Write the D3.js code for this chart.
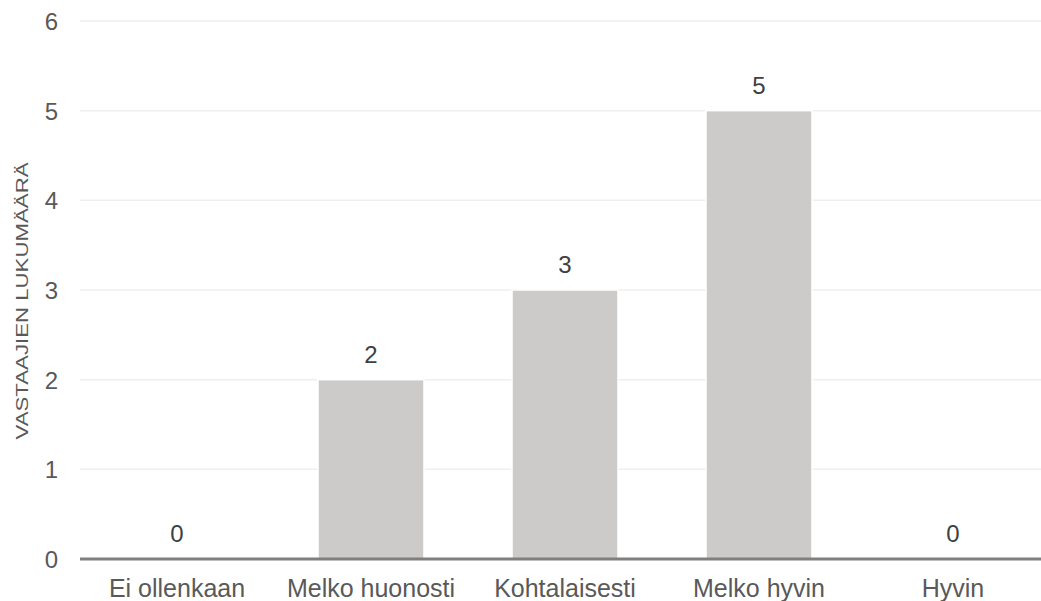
<!DOCTYPE html>
<html><head><meta charset="utf-8">
<script src="https://cdn.jsdelivr.net/npm/d3@7/dist/d3.min.js"></script>
<style>body{margin:0;background:#fff}svg{display:block}</style>
</head><body>
<script>
const categories = ["Ei ollenkaan","Melko huonosti","Kohtalaisesti","Melko hyvin","Hyvin"];
const values = [0,2,3,5,0];
const yTicks = [0,1,2,3,4,5,6];
const yTitle = "VASTAAJIEN LUKUMÄÄRÄ";

const W=1041,H=601;
const svg=d3.select("body").append("svg").attr("width",W).attr("height",H);
const x=d3.scaleBand().domain(categories).range([80,1050]).paddingInner(0.454).paddingOuter(0.227);
const y=d3.scaleLinear().domain([0,6]).range([559,21]);
const font="'Liberation Sans', Arial, sans-serif";
const txt="#595959";
const fs=24;

// gridlines
svg.append("g").selectAll("line").data(yTicks.filter(d=>d>0)).join("line")
  .attr("x1",80).attr("x2",1041).attr("y1",d=>y(d)).attr("y2",d=>y(d))
  .attr("stroke","#efefef").attr("stroke-width",1.5);

// y tick labels
const yAxis=d3.axisLeft(y).tickValues(yTicks).tickSize(0).tickPadding(0).tickFormat(d3.format("d"));
const ya=svg.append("g").attr("transform","translate(58,0)").call(yAxis);
ya.select(".domain").remove();
ya.selectAll("text").attr("font-family",font).attr("font-size",fs).attr("fill",txt).attr("dy","0.36em");

// bars
svg.append("g").selectAll("rect").data(values).join("rect")
  .attr("x",(d,i)=>x(categories[i])).attr("width",x.bandwidth())
  .attr("y",d=>y(d)).attr("height",d=>y(0)-y(d))
  .attr("fill","#cccbc9").attr("stroke","#fff").attr("stroke-width",1.5);

// baseline
svg.append("line").attr("x1",80).attr("x2",1041).attr("y1",y(0)).attr("y2",y(0))
  .attr("stroke","#7f7f7f").attr("stroke-width",3);

// value labels
svg.append("g").selectAll("text").data(values).join("text")
  .attr("x",(d,i)=>x(categories[i])+x.bandwidth()/2).attr("y",d=>y(d)-17)
  .attr("text-anchor","middle").attr("font-family",font).attr("font-size",fs).attr("fill","#404040")
  .text(d=>d);

// x axis labels
const xAxis=d3.axisBottom(x).tickSize(0).tickPadding(0);
const xa=svg.append("g").call(xAxis);
xa.select(".domain").remove();
xa.selectAll("text").attr("font-family",font).attr("font-size",25).attr("fill",txt).attr("y",597).attr("dy",null);

// y title
svg.append("text").attr("transform","translate(28,301) rotate(-90)")
  .attr("text-anchor","middle").attr("font-family",font).attr("font-size",17)
  .attr("fill",txt).attr("textLength",277).attr("lengthAdjust","spacingAndGlyphs")
  .text(yTitle);
</script>
</body></html>
